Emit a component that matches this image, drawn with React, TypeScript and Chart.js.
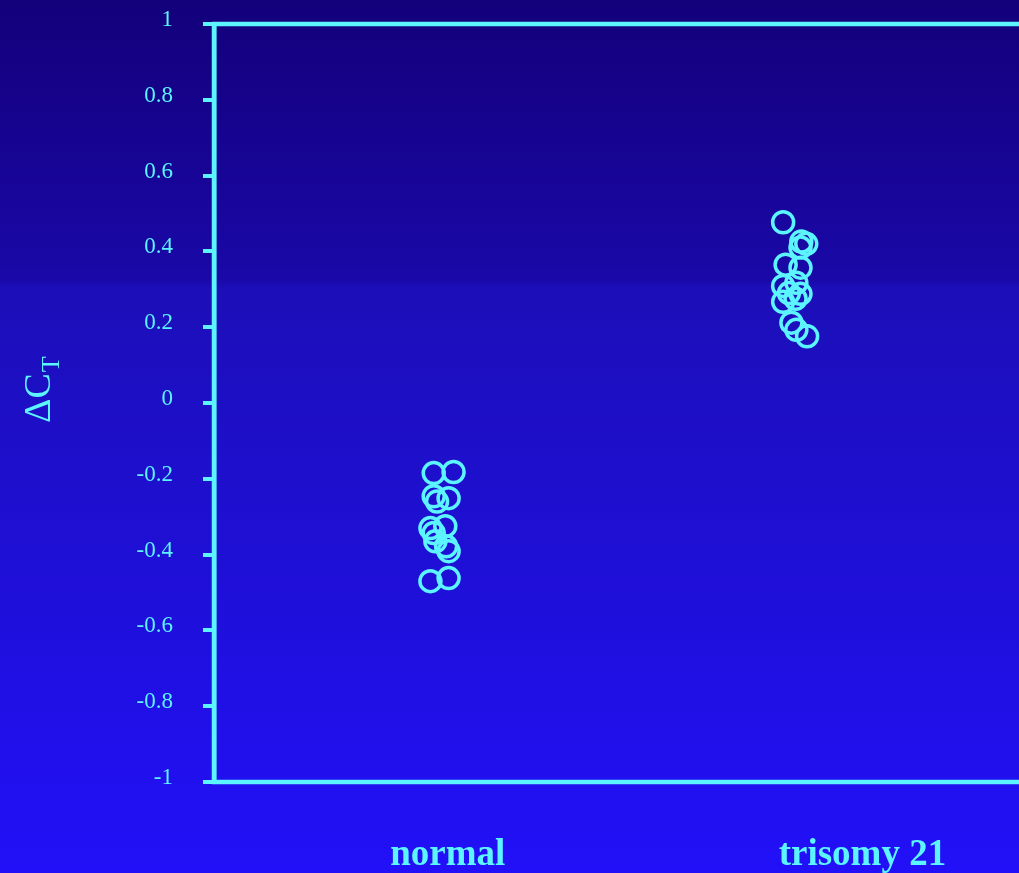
import React, { useEffect, useRef } from "react";
import { Chart, registerables } from "chart.js";

Chart.register(...registerables);

const categories = ["normal", "trisomy 21"];
const categoryX = [2.83, 7.85];

const normalX = [2.66, 2.9, 2.66, 2.84, 2.7, 2.8, 2.62, 2.66, 2.68, 2.81, 2.84, 2.62, 2.84];
const normalY = [-0.185, -0.182, -0.246, -0.251, -0.26, -0.325, -0.33, -0.343, -0.365, -0.378, -0.391, -0.47, -0.462];

const trisomyX = [6.89, 7.11, 7.17, 7.1, 6.92, 7.1, 7.05, 6.89, 7.1, 6.89, 7.04, 6.99, 7.05, 7.18, 6.96];
const trisomyY = [0.477, 0.426, 0.42, 0.41, 0.365, 0.357, 0.317, 0.309, 0.288, 0.267, 0.275, 0.212, 0.193, 0.176, 0.29];

const yTicks = [-1, -0.8, -0.6, -0.4, -0.2, 0, 0.2, 0.4, 0.6, 0.8, 1];

const CYAN = "#5cf4ff";
const SERIF = "'Liberation Serif', 'DejaVu Serif', serif";

export default function App() {
  const ref = useRef<HTMLCanvasElement | null>(null);

  useEffect(() => {
    const canvas = ref.current;
    if (!canvas) return;

    const bgPlugin = {
      id: "bg",
      beforeDraw(chart: any) {
        const { ctx, width, height } = chart;
        const g = ctx.createLinearGradient(0, 0, 0, height);
        g.addColorStop(0, "#13007a");
        g.addColorStop(0.32, "#1a08a8");
        g.addColorStop(0.33, "#1c0fb8");
        g.addColorStop(1, "#2210f8");
        ctx.save();
        ctx.fillStyle = g;
        ctx.fillRect(0, 0, width, height);
        ctx.restore();
      },
    };

    const framePlugin = {
      id: "frame",
      afterDraw(chart: any) {
        const { ctx, chartArea } = chart;
        const xs = chart.scales.x;
        ctx.save();
        ctx.strokeStyle = CYAN;
        ctx.lineWidth = 4.5;
        ctx.strokeRect(chartArea.left, chartArea.top, chartArea.right - chartArea.left, chartArea.bottom - chartArea.top);
        ctx.fillStyle = CYAN;
        ctx.font = `bold 37px ${SERIF}`;
        ctx.textAlign = "center";
        ctx.textBaseline = "middle";
        categories.forEach((c, i) => {
          ctx.fillText(c, xs.getPixelForValue(categoryX[i]), 855);
        });
        ctx.translate(50, 423);
        ctx.rotate(-Math.PI / 2);
        ctx.textAlign = "left";
        ctx.textBaseline = "alphabetic";
        ctx.font = `38px ${SERIF}`;
        ctx.fillText("\u0394C", 0, 0);
        const w = ctx.measureText("\u0394C").width;
        ctx.font = `26px ${SERIF}`;
        ctx.fillText("T", w + 1, 9);
        ctx.restore();
      },
    };

    const chart = new Chart(canvas, {
      type: "scatter",
      data: {
        datasets: [
          {
            label: categories[0],
            data: normalX.map((x, i) => ({ x, y: normalY[i] })),
          },
          {
            label: categories[1],
            data: trisomyX.map((x, i) => ({ x, y: trisomyY[i] })),
          },
        ].map((d) => ({
          ...d,
          pointStyle: "circle",
          pointRadius: 10.5,
          pointBorderWidth: 3.5,
          pointBackgroundColor: "rgba(0,0,0,0)",
          pointBorderColor: CYAN,
          pointHoverRadius: 10.5,
        })),
      },
      options: {
        animation: false,
        responsive: false,
        maintainAspectRatio: false,
        layout: { padding: { top: 24, right: 0, bottom: 91, left: 0 } },
        plugins: { legend: { display: false }, tooltip: { enabled: false } },
        scales: {
          x: { type: "linear", min: 0, max: 9.83, display: false },
          y: {
            type: "linear",
            min: -1,
            max: 1,
            afterFit(scale: any) {
              scale.width = 214;
              scale.paddingTop = 0;
              scale.paddingBottom = 0;
            },
            afterBuildTicks(scale: any) {
              scale.ticks = yTicks.map((v) => ({ value: v }));
            },
            border: { display: true, color: CYAN, width: 4.5 },
            grid: {
              drawOnChartArea: false,
              drawTicks: true,
              tickLength: 11,
              color: CYAN,
              lineWidth: 4,
            },
            ticks: {
              color: CYAN,
              padding: 30,
              labelOffset: -4,
              font: { family: SERIF, size: 23 },
              callback: (v: any) => String(v),
            },
          },
        },
      },
      plugins: [bgPlugin, framePlugin],
    } as any);

    return () => chart.destroy();
  }, []);

  return (
    <div style={{ position: "fixed", left: 0, top: 0, width: 1019, height: 873, overflow: "hidden" }}>
      <canvas ref={ref} width={1040} height={873} style={{ display: "block", width: 1040, height: 873 }} />
    </div>
  );
}
